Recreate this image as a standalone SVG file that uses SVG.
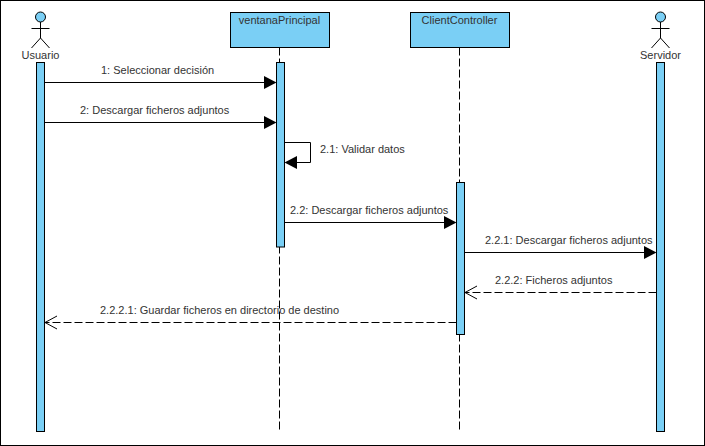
<svg xmlns="http://www.w3.org/2000/svg" width="705" height="446" viewBox="0 0 705 446">
<style>
text{font-family:"Liberation Sans",Arial,sans-serif;font-size:11px;fill:#333}
.box{fill:#7acff5;stroke:#000;stroke-width:1}
.act{fill:none;stroke:#000;stroke-width:1}
.life{fill:none;stroke:#000;stroke-width:1;stroke-dasharray:8 3}
.msg{fill:none;stroke:#000;stroke-width:1}
.ret{fill:none;stroke:#000;stroke-width:1;stroke-dasharray:8 3}
.open{fill:none;stroke:#000;stroke-width:1}
.c{text-anchor:middle}
</style>
<defs>
<g id="stick">
<circle cx="0" cy="17" r="5" class="box"/>
<path class="act" d="M0 22V38M-9 28.500H9M-9 48L0 38L9 48"/>
</g>
</defs>
<rect id="frame" x="0.500" y="0.500" width="704" height="445" fill="#fff" stroke="#000"/>
<g id="lifelines">
<path class="life" d="M279.500 47.500V430"/>
<path class="life" d="M459.500 47.500V430"/>
</g>
<g id="usuario">
<use href="#stick" x="40.500"/>
<text class="c" x="40.500" y="59">Usuario</text>
<rect class="box" x="36.500" y="62.500" width="8" height="369"/>
</g>
<g id="ventanaPrincipal">
<rect class="box" x="230.500" y="12.500" width="99" height="35"/>
<text class="c" x="279.500" y="24">ventanaPrincipal</text>
<rect class="box" x="276.500" y="62.500" width="8" height="184.500"/>
</g>
<g id="clientController">
<rect class="box" x="410.500" y="12.500" width="99" height="35"/>
<text class="c" x="459.500" y="24">ClientController</text>
<rect class="box" x="456.500" y="182.500" width="8" height="152"/>
</g>
<g id="servidor">
<use href="#stick" x="660.500"/>
<text class="c" x="660.500" y="59">Servidor</text>
<rect class="box" x="656.500" y="62.500" width="8" height="369"/>
</g>
<g id="connectors">
<path class="msg" d="M44.500 82.500H264"/><path d="M264 76L276.500 82.500L264 89Z"/>
<path class="msg" d="M44.500 122.500H264"/><path d="M264 116L276.500 122.500L264 129Z"/>
<path class="msg" d="M284.500 142.500H310.500V162.500H297"/><path d="M297 156L284.500 162.500L297 169Z"/>
<path class="msg" d="M284.500 222.500H444"/><path d="M444 216L456.500 222.500L444 229Z"/>
<path class="msg" d="M464.500 252.500H644"/><path d="M644 246L656.500 252.500L644 259Z"/>
<path class="ret" d="M656.500 292.500H465"/><path class="open" d="M477 286L465 292.500L477 299"/>
<path class="ret" d="M456.500 322.500H45"/><path class="open" d="M57 316L45 322.500L57 329"/>
</g>
<g id="labels">
<text x="101" y="74">1: Seleccionar decisión</text>
<text x="80" y="114">2: Descargar ficheros adjuntos</text>
<text x="320" y="153">2.1: Validar datos</text>
<text x="290" y="214">2.2: Descargar ficheros adjuntos</text>
<text x="485" y="244">2.2.1: Descargar ficheros adjuntos</text>
<text x="495" y="284">2.2.2: Ficheros adjuntos</text>
<text x="100" y="314">2.2.2.1: Guardar ficheros en directorio de destino</text>
</g>
</svg>
